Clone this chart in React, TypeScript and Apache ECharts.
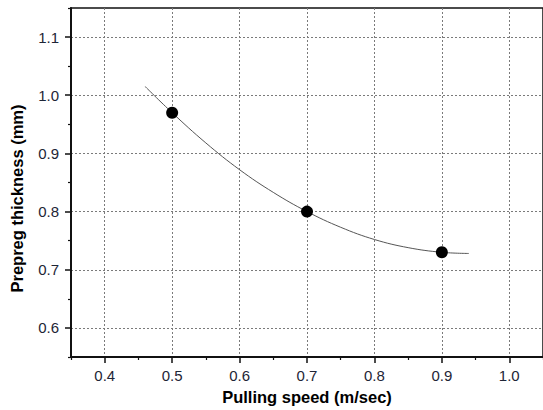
import React, { useEffect, useRef } from "react";
import * as echarts from "echarts";

const xTicks = [0.4, 0.5, 0.6, 0.7, 0.8, 0.9, 1.0];
const xMinorTicks = [0.35, 0.45, 0.55, 0.65, 0.75, 0.85, 0.95, 1.05];
const yTicks = [0.6, 0.7, 0.8, 0.9, 1.0, 1.1];
const yMinorTicks = [0.55, 0.65, 0.75, 0.85, 0.95, 1.05, 1.15];

const speeds = [0.5, 0.7, 0.9];
const thickness = [0.97, 0.8, 0.73];

const fitX = [0.46, 0.5, 0.55, 0.6, 0.65, 0.7, 0.75, 0.8, 0.85, 0.9, 0.94];
const fitY = [1.015, 0.97, 0.918, 0.872, 0.833, 0.8, 0.773, 0.752, 0.738, 0.73, 0.728];

const labelColor = "#1e2536";
const fontFamily = "Liberation Sans, Arial, sans-serif";

export default function App() {
  const ref = useRef<HTMLDivElement>(null);
  useEffect(() => {
    document.body.style.margin = "0";
    const chart = echarts.init(ref.current!, null, { renderer: "svg" });
    const gridLine = { show: true, lineStyle: { color: "#7a7a7a", width: 1, type: [2, 2] as any } };
    chart.setOption({
      animation: false,
      backgroundColor: "#ffffff",
      grid: {
        left: 69.5,
        top: 8,
        right: -2.5,
        bottom: 51.7,
        show: true,
        borderColor: "#111",
        borderWidth: 1.5,
        backgroundColor: "transparent",
      },
      xAxis: [
        {
          type: "value",
          min: 0.35,
          max: 1.05,
          position: "bottom",
          name: "Pulling speed (m/sec)",
          nameLocation: "middle",
          nameGap: 31,
          nameTextStyle: { fontFamily, fontWeight: "bold", fontSize: 16.5, color: "#000" },
          axisLine: { show: true, onZero: false, lineStyle: { color: "#111", width: 2 } },
          axisTick: { show: true, inside: false, length: 6, lineStyle: { color: "#111", width: 1.5 }, customValues: xTicks },
          axisLabel: {
            customValues: xTicks,
            margin: 11,
            fontFamily,
            fontSize: 15,
            color: labelColor,
            formatter: (v: number) => v.toFixed(1),
          },
          splitLine: gridLine,
        },
        {
          type: "value",
          min: 0.35,
          max: 1.05,
          position: "bottom",
          gridIndex: 0,
          axisLine: { show: false, onZero: false },
          axisTick: { show: true, inside: false, length: 3, lineStyle: { color: "#111", width: 1.2 }, customValues: xMinorTicks },
          axisLabel: { show: false },
          splitLine: { show: false },
        },
      ],
      yAxis: [
        {
          type: "value",
          min: 0.55,
          max: 1.15,
          position: "left",
          name: "Prepreg thickness (mm)",
          nameLocation: "middle",
          nameGap: 46,
          nameRotate: 90,
          nameTextStyle: { fontFamily, fontWeight: "bold", fontSize: 16.5, color: "#000", padding: [0, 32, 0, 0] },
          axisLine: { show: true, onZero: false, lineStyle: { color: "#111", width: 2 } },
          axisTick: { show: true, inside: false, length: 6, lineStyle: { color: "#111", width: 1.5 }, customValues: yTicks },
          axisLabel: {
            customValues: yTicks,
            margin: 12,
            fontFamily,
            fontSize: 15,
            color: labelColor,
            formatter: (v: number) => v.toFixed(1),
          },
          splitLine: gridLine,
        },
        {
          type: "value",
          min: 0.55,
          max: 1.15,
          position: "left",
          gridIndex: 0,
          axisLine: { show: false, onZero: false },
          axisTick: { show: true, inside: false, length: 3, lineStyle: { color: "#111", width: 1.2 }, customValues: yMinorTicks },
          axisLabel: { show: false },
          splitLine: { show: false },
        },
      ],
      series: [
        {
          type: "line",
          data: fitX.map((x, i) => [x, fitY[i]]),
          smooth: 0.4,
          showSymbol: false,
          symbol: "none",
          lineStyle: { color: "#555", width: 1 },
          z: 2,
        },
        {
          type: "scatter",
          data: speeds.map((x, i) => [x, thickness[i]]),
          symbol: "circle",
          symbolSize: 12,
          itemStyle: { color: "#000", opacity: 1 },
          z: 3,
        },
      ],
    });
    return () => chart.dispose();
  }, []);
  return <div ref={ref} style={{ width: 543, height: 410 }} />;
}
